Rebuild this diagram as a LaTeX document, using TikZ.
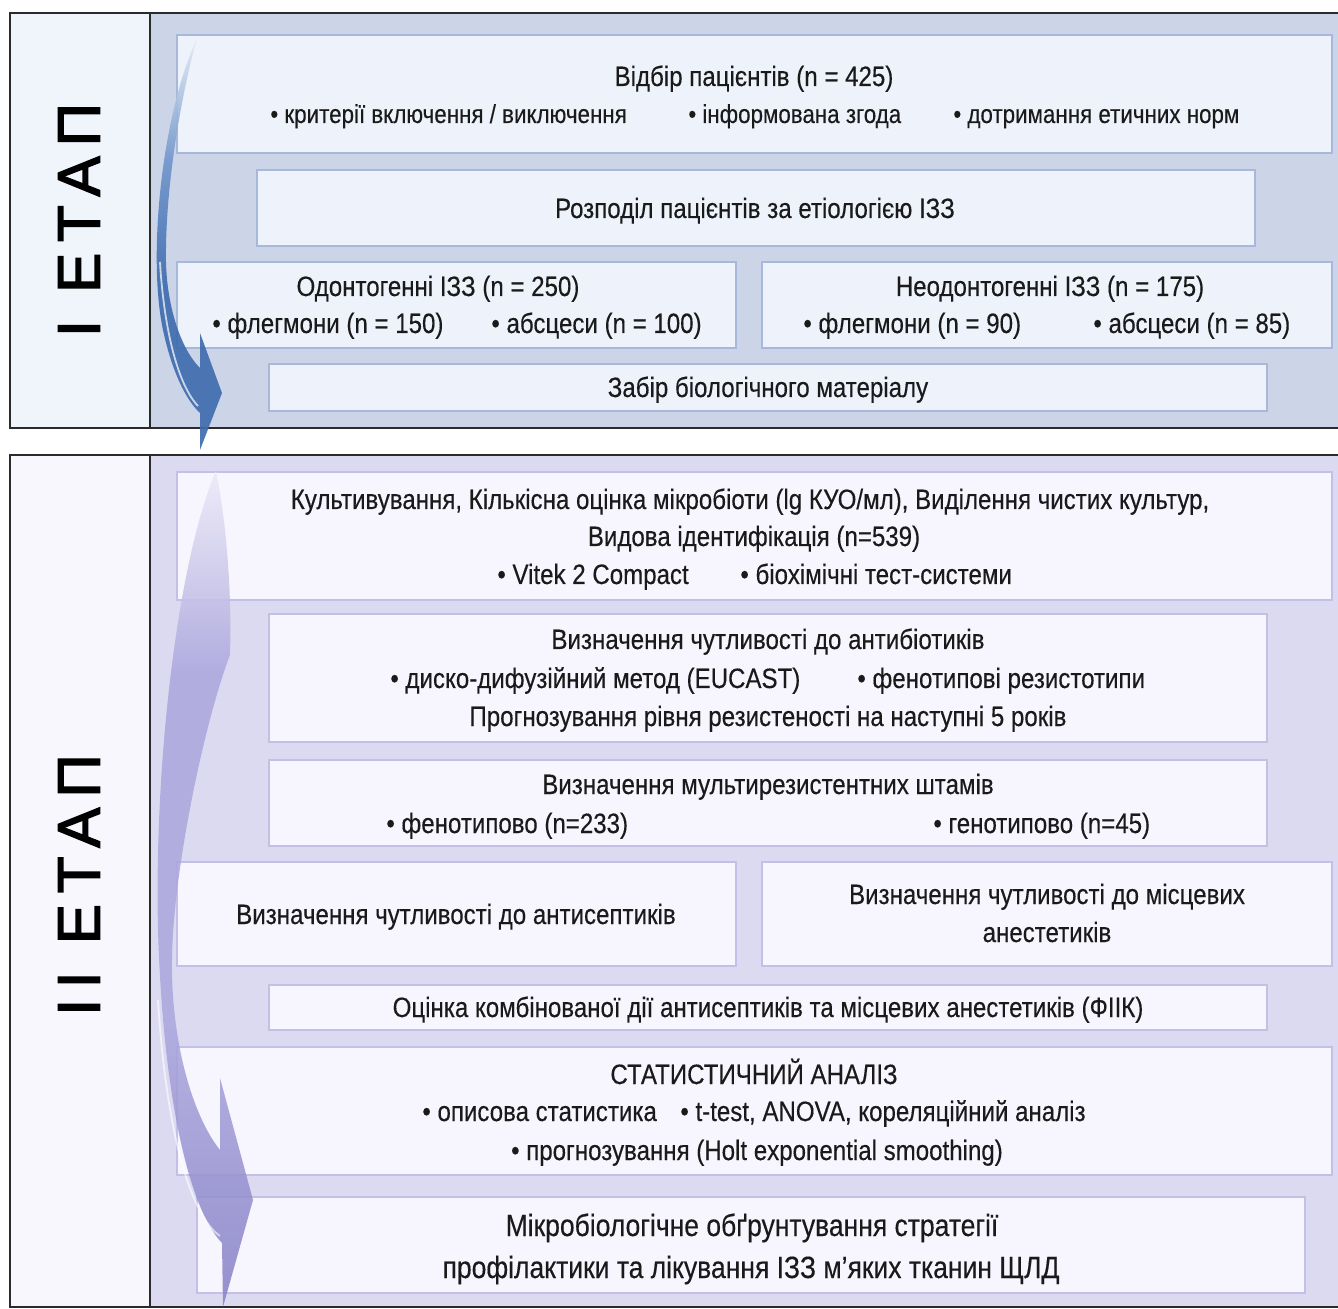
\documentclass[tikz,border=0pt]{standalone}
\usepackage{fontspec}
\setmainfont[FakeStretch=0.86, FakeBold=0.3]{Liberation Sans}
\newfontfamily\stagefont[LetterSpace=18, FakeBold=2.5]{Liberation Sans}
\usetikzlibrary{fit}
\definecolor{frameC}{HTML}{2B2B2B}
\definecolor{labIC}{HTML}{F0F4FB}
\definecolor{panIC}{HTML}{CCD4E8}
\definecolor{boxIF}{HTML}{EEF3FB}
\definecolor{boxID}{HTML}{A7B8DA}
\definecolor{labIIC}{HTML}{F8F7FD}
\definecolor{panIIC}{HTML}{DCDAF1}
\definecolor{boxIIF}{HTML}{F7F5FD}
\definecolor{boxIID}{HTML}{C3BFE6}
\definecolor{arrIa}{HTML}{E6ECF7}
\definecolor{arrIb}{HTML}{7196CB}
\definecolor{arrIc}{HTML}{3F6DAE}
\definecolor{arrIIa}{HTML}{ECEAF8}
\definecolor{arrIIb}{HTML}{ABA6DD}
\definecolor{arrIIc}{HTML}{857FC5}
\definecolor{ink}{HTML}{1A1A1A}
\pgfdeclareverticalshading{arrIshade}{100bp}{color(0bp)=(arrIc); color(25bp)=(arrIc); color(45bp)=(arrIc); color(60bp)=(arrIb); color(75bp)=(arrIa); color(100bp)=(arrIa)}
\pgfdeclareverticalshading{arrIIshade}{100bp}{color(0bp)=(arrIIc); color(25bp)=(arrIIc); color(42bp)=(arrIIb); color(63bp)=(arrIIb); color(75bp)=(arrIIa); color(100bp)=(arrIIa)}
\tikzset{
  area/.style={inner sep=0pt, outer sep=0pt},
  frame/.style={draw=frameC, line width=1.2pt},
  boxI/.style={draw=boxID, fill=boxIF, line width=1pt, inner sep=0pt, outer sep=0pt},
  boxII/.style={draw=boxIID, fill=boxIIF, line width=1pt, inner sep=0pt, outer sep=0pt},
  txt/.style={inner sep=0pt, text=ink, font=\fontsize{14}{18.5}\selectfont, align=center},
  smalltxt/.style={inner sep=0pt, text=ink, font=\fontsize{13}{18.5}\selectfont, align=center},
  bigtxt/.style={inner sep=0pt, text=ink, font=\fontsize{15.4}{21}\selectfont, align=center},
  stagelbl/.style={inner sep=0pt, text=black, font=\stagefont\fontsize{30}{36}\selectfont, rotate=90},
}
\begin{document}
\begin{tikzpicture}[x=0.5pt, y=-0.5pt]
\useasboundingbox (0,0) rectangle (1338,1309);
\fill[white] (0,0) rectangle (1338,1309);

% ---------- Stage I ----------
\node[area, fill=labIC, fit={(10,13)(150,428)}] (labcolI) {};
\node[area, fill=panIC, fit={(150,13)(1338,428)}] (panI) {};
\draw[frame] (panI.north east) -- (labcolI.north west) -- (labcolI.south west) -- (panI.south east);
\draw[frame] (labcolI.north east) -- (labcolI.south east);
\node[stagelbl] (stageI) at (79,220) {І ЕТАП};

\node[boxI, fit={(177,35)(1332,153)}] (sel) {};
\node[txt, anchor=base] (selT) at (754,86) {Відбір пацієнтів (n = 425)};
\node[smalltxt, anchor=base west] (selB1) at (270,123) {• критерії включення / виключення};
\node[smalltxt, anchor=base west] (selB2) at (688,123) {• інформована згода};
\node[smalltxt, anchor=base west] (selB3) at (953,123) {• дотримання етичних норм};

\node[boxI, fit={(257,170)(1255,246)}] (dist) {};
\node[txt, anchor=base] (distT) at (755,218) {Розподіл пацієнтів за етіологією ІЗЗ};

\node[boxI, fit={(177,262)(736,348)}] (odo) {};
\node[txt, anchor=base] (odoT) at (438,296) {Одонтогенні ІЗЗ (n = 250)};
\node[txt, anchor=base west] (odoB1) at (212,333) {• флегмони (n = 150)};
\node[txt, anchor=base west] (odoB2) at (491,333) {• абсцеси (n = 100)};

\node[boxI, fit={(762,262)(1332,348)}] (nodo) {};
\node[txt, anchor=base] (nodoT) at (1050,296) {Неодонтогенні ІЗЗ (n = 175)};
\node[txt, anchor=base west] (nodoB1) at (803,333) {• флегмони (n = 90)};
\node[txt, anchor=base west] (nodoB2) at (1093,333) {• абсцеси (n = 85)};

\node[boxI, fit={(269,364)(1267,411)}] (bio) {};
\node[txt, anchor=base] (bioT) at (768,397) {Забір біологічного матеріалу};

% ---------- Stage II ----------
\node[area, fill=labIIC, fit={(10,455)(150,1307)}] (labcolII) {};
\node[area, fill=panIIC, fit={(150,455)(1338,1307)}] (panII) {};
\draw[frame] (panII.north east) -- (labcolII.north west) -- (labcolII.south west) -- (panII.south east);
\draw[frame] (labcolII.north east) -- (labcolII.south east);
\node[stagelbl] (stageII) at (79,885) {ІІ ЕТАП};

\node[boxII, fit={(177,472)(1332,600)}] (cult) {};
\node[txt, anchor=base] (cultT1) at (750,509) {Культивування, Кількісна оцінка мікробіоти (lg КУО/мл), Виділення чистих культур,};
\node[txt, anchor=base] (cultT2) at (754,546) {Видова ідентифікація (n=539)};
\node[txt, anchor=base west] (cultB1) at (497,584) {• Vitek 2 Compact};
\node[txt, anchor=base west] (cultB2) at (740,584) {• біохімічні тест-системи};

\node[boxII, fit={(269,614)(1267,742)}] (abx) {};
\node[txt, anchor=base] (abxT1) at (768,649) {Визначення чутливості до антибіотиків};
\node[txt, anchor=base west] (abxB1) at (390,688) {• диско-дифузійний метод (EUCAST)};
\node[txt, anchor=base west] (abxB2) at (857,688) {• фенотипові резистотипи};
\node[txt, anchor=base] (abxT2) at (768,726) {Прогнозування рівня резистеності на наступні 5 років};

\node[boxII, fit={(269,760)(1267,846)}] (mdr) {};
\node[txt, anchor=base] (mdrT) at (768,794) {Визначення мультирезистентних штамів};
\node[txt, anchor=base west] (mdrB1) at (386,833) {• фенотипово (n=233)};
\node[txt, anchor=base west] (mdrB2) at (933,833) {• генотипово (n=45)};

\node[boxII, fit={(177,862)(736,966)}] (asep) {};
\node[txt, anchor=base] (asepT) at (456,924) {Визначення чутливості до антисептиків};

\node[boxII, fit={(762,862)(1332,966)}] (anest) {};
\node[txt, anchor=base] (anestT1) at (1047,904) {Визначення чутливості до місцевих};
\node[txt, anchor=base] (anestT2) at (1047,942) {анестетиків};

\node[boxII, fit={(269,985)(1267,1030)}] (fiik) {};
\node[txt, anchor=base] (fiikT) at (768,1017) {Оцінка комбінованої дії антисептиків та місцевих анестетиків (ФІІК)};

\node[boxII, fit={(177,1047)(1332,1175)}] (stat) {};
\node[txt, anchor=base] (statT1) at (754,1084) {СТАТИСТИЧНИЙ АНАЛІЗ};
\node[txt, anchor=base west] (statB1) at (422,1121) {• описова статистика};
\node[txt, anchor=base west] (statB2) at (680,1121) {• t-test, ANOVA, кореляційний аналіз};
\node[txt, anchor=base] (statT2) at (757,1160) {• прогнозування (Holt exponential smoothing)};

\node[boxII, fit={(197,1197)(1305,1293)}] (concl) {};
\node[bigtxt, anchor=base] (conclT1) at (752,1236) {Мікробіологічне обґрунтування стратегії};
\node[bigtxt, anchor=base] (conclT2) at (751,1278) {профілактики та лікування ІЗЗ м’яких тканин ЩЛД};

% ---------- curved arrows ----------
\shade[shading=arrIshade, opacity=0.92]
  (197,38) .. controls (160,120) and (148,260) .. (163,330)
  .. controls (172,372) and (186,400) .. (200,413)
  -- (200,450) -- (222,393) -- (200,333) -- (200,368)
  .. controls (180,348) and (167,305) .. (166,262)
  .. controls (165,190) and (180,100) .. (197,38) -- cycle;
\draw[white, line width=0.9pt, opacity=0.7]
  (160,262) .. controls (164,330) and (178,385) .. (198,406);

\shade[shading=arrIIshade, opacity=0.85]
  (216,471) .. controls (178,560) and (154,760) .. (158,930)
  .. controls (163,1100) and (190,1210) .. (222,1243)
  -- (223,1307) -- (253,1200) -- (220,1078) -- (220,1150)
  .. controls (192,1115) and (171,1040) .. (172,960)
  .. controls (173,870) and (205,720) .. (230,655)
  .. controls (232,590) and (226,520) .. (216,471) -- cycle;
\draw[white, line width=0.9pt, opacity=0.6]
  (158,1000) .. controls (166,1130) and (190,1215) .. (220,1236);
\end{tikzpicture}
\end{document}
